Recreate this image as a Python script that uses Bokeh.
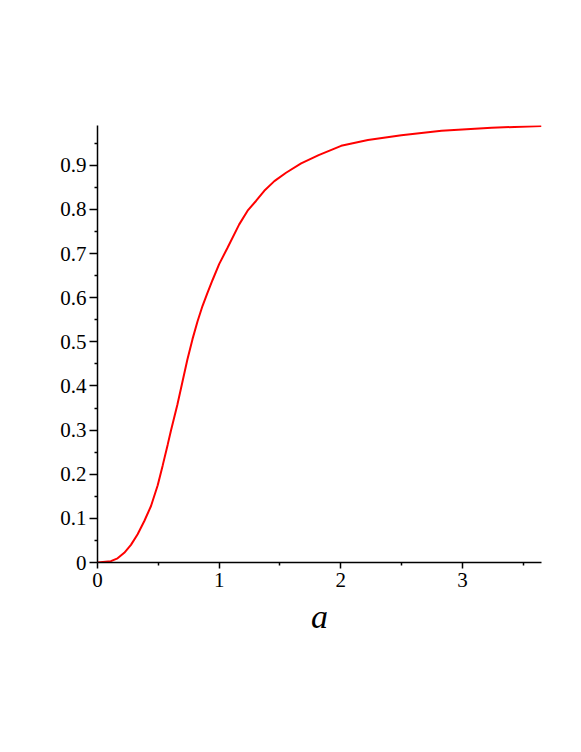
from bokeh.plotting import figure
from bokeh.models import Range1d, FixedTicker, CustomJSTickFormatter
from bokeh.embed import file_html
from bokeh.resources import INLINE

# Curve data
a_vals = [0, 0.11, 0.165, 0.22, 0.275, 0.33, 0.385, 0.44, 0.495, 0.536, 0.577,
          0.604, 0.657, 0.698, 0.739, 0.781, 0.822, 0.863, 0.904, 0.946, 1.0,
          1.069, 1.165, 1.234, 1.303, 1.371, 1.454, 1.55, 1.674, 1.818, 2.003,
          2.223, 2.498, 2.828, 3.24, 3.65]
f_vals = [0, 0.003, 0.0095, 0.022, 0.040, 0.064, 0.094, 0.128, 0.175, 0.220, 0.267,
          0.299, 0.358, 0.409, 0.460, 0.506, 0.546, 0.581, 0.611, 0.640, 0.676,
          0.713, 0.766, 0.797, 0.819, 0.842, 0.864, 0.883, 0.904, 0.923, 0.944,
          0.957, 0.968, 0.978, 0.985, 0.989]

x_ticks = [0, 1, 2, 3]
x_minor = [0.5, 1.5, 2.5, 3.5]
y_ticks = [0, 0.1, 0.2, 0.3, 0.4, 0.5, 0.6, 0.7, 0.8, 0.9]
y_minor = [0.05, 0.15, 0.25, 0.35, 0.45, 0.55, 0.65, 0.75, 0.85, 0.95]
x_label = "a"

p = figure(frame_width=444, frame_height=437, output_backend="svg",
           toolbar_location=None,
           x_range=Range1d(0, 3.65), y_range=Range1d(0, 0.990),
           min_border_left=97, min_border_top=125,
           min_border_right=20, min_border_bottom=150)

p.line(a_vals, f_vals, line_color="#ff0000", line_width=2)

p.outline_line_color = None
p.xgrid.visible = False
p.ygrid.visible = False
p.background_fill_color = "white"
p.border_fill_color = "white"

p.xaxis.ticker = FixedTicker(ticks=x_ticks, minor_ticks=x_minor)
p.yaxis.ticker = FixedTicker(ticks=y_ticks, minor_ticks=y_minor)
p.yaxis.formatter = CustomJSTickFormatter(code="return tick == 0 ? '0' : tick.toFixed(1);")
p.xaxis.formatter = CustomJSTickFormatter(code="return tick.toFixed(0);")

for ax in (p.xaxis[0], p.yaxis[0]):
    ax.axis_line_width = 1.5
    ax.axis_line_color = "black"
    ax.major_tick_line_width = 1.5
    ax.minor_tick_line_width = 1.5
    ax.major_tick_in = 0
    ax.minor_tick_out = 3
    ax.minor_tick_in = 0
    ax.major_label_text_font = "Liberation Serif"
    ax.major_label_text_font_size = "21px"
    ax.major_label_text_color = "black"

p.yaxis.major_tick_out = 8
p.yaxis.major_label_standoff = 3
p.xaxis.major_tick_out = 6
p.xaxis.major_label_standoff = 4

p.xaxis.axis_label = x_label
p.xaxis.axis_label_text_font = "Liberation Serif"
p.xaxis.axis_label_text_font_style = "italic"
p.xaxis.axis_label_text_font_size = "34px"
p.xaxis.axis_label_text_color = "black"
p.xaxis.axis_label_standoff = 8

open("out.html", "w").write(file_html(p, INLINE))
